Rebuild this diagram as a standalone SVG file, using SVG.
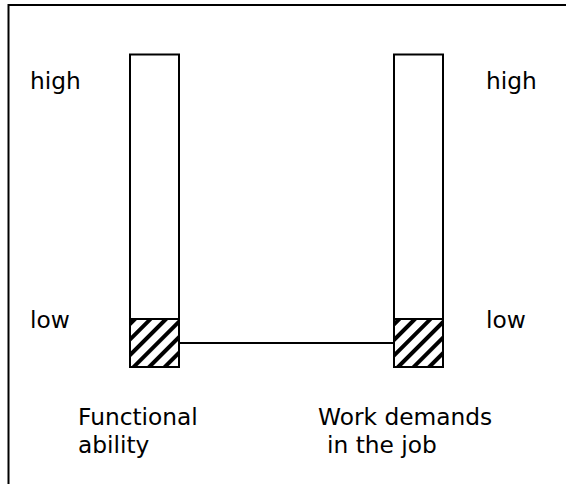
<svg xmlns="http://www.w3.org/2000/svg" width="566" height="484" viewBox="0 0 566 484">
<style>
text{font-family:"DejaVu Sans",Verdana,sans-serif;font-size:23.3px;fill:#000}
.bar{fill:#fff;stroke:#000;stroke-width:2}
.hatch{fill:url(#h);stroke:#000;stroke-width:2}
</style>
<defs>
<pattern id="h" patternUnits="userSpaceOnUse" width="11" height="11" patternTransform="rotate(45)">
<rect width="11" height="11" fill="#fff"/>
<rect x="0" y="0" width="4" height="11" fill="#000"/>
</pattern>
</defs>
<rect x="0" y="0" width="566" height="484" fill="#fff"/>
<path d="M8.5 490 V5 H570" fill="none" stroke="#000" stroke-width="2"/>
<g id="connectors">
<line x1="179" y1="343" x2="393" y2="343" stroke="#000" stroke-width="2"/>
</g>
<g id="functional-ability">
<rect class="bar" x="130" y="54.5" width="49" height="264.5"/>
<rect class="hatch" x="130" y="319" width="49" height="48"/>
</g>
<g id="work-demands">
<rect class="bar" x="394" y="54.5" width="49" height="264.5"/>
<rect class="hatch" x="394" y="319" width="49" height="48"/>
</g>
<g id="labels">
<text x="30" y="89">high</text>
<text x="486" y="89">high</text>
<text x="30" y="328">low</text>
<text x="486" y="328">low</text>
<text x="78" y="425">Functional</text>
<text x="78" y="453">ability</text>
<text x="318" y="425">Work demands</text>
<text x="327" y="453">in the job</text>
</g>
</svg>
